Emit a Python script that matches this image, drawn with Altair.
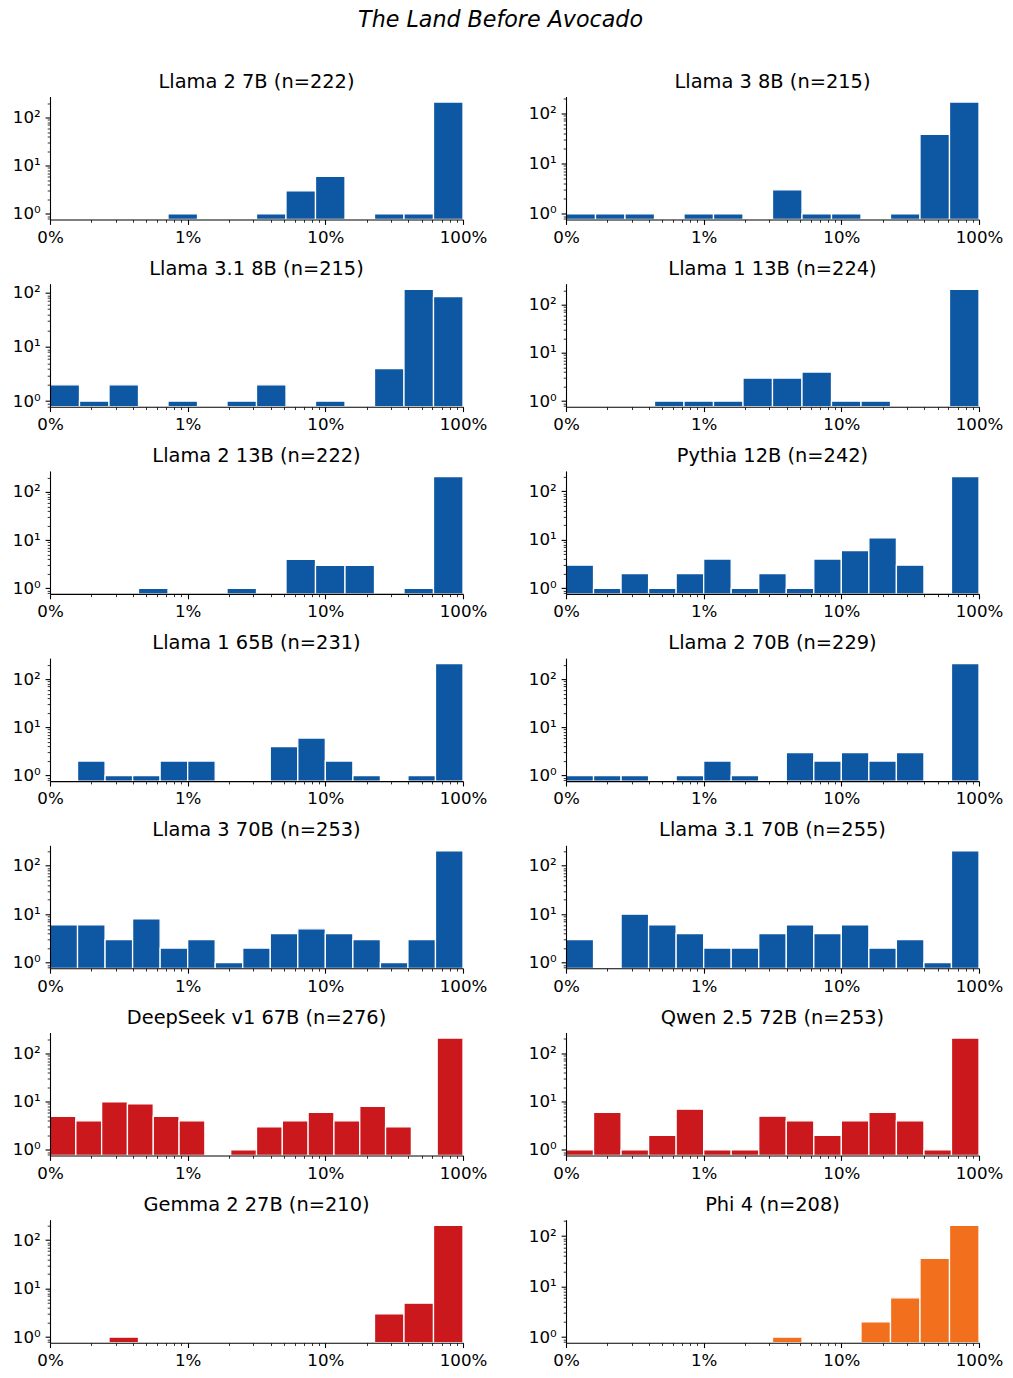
import math
import altair as alt
import pandas as pd

TITLE = "The Land Before Avocado"

MODELS = ["Llama 2 7B", "Llama 3 8B", "Llama 3.1 8B", "Llama 1 13B",
          "Llama 2 13B", "Pythia 12B", "Llama 1 65B", "Llama 2 70B",
          "Llama 3 70B", "Llama 3.1 70B", "DeepSeek v1 67B", "Qwen 2.5 72B",
          "Gemma 2 27B", "Phi 4"]
N = [222, 215, 215, 224, 222, 242, 231, 229, 253, 255, 276, 253, 210, 208]

BLUE = "#0e57a2"
RED = "#cb181d"
ORANGE = "#f16f1d"
COLORS = [BLUE] * 10 + [RED] * 3 + [ORANGE]

# histogram counts per model; bins span 0.1%..100% evenly in log space
COUNTS = [
    [0, 0, 0, 0, 1, 0, 0, 1, 3, 6, 0, 1, 1, 209],
    [1, 1, 1, 0, 1, 1, 0, 3, 1, 1, 0, 1, 38, 166],
    [2, 1, 2, 0, 1, 0, 1, 2, 0, 1, 0, 4, 116, 85],
    [0, 0, 0, 1, 1, 1, 3, 3, 4, 1, 1, 0, 0, 209],
    [0, 0, 0, 1, 0, 0, 1, 0, 4, 3, 3, 0, 1, 209],
    [3, 1, 2, 1, 2, 4, 1, 2, 1, 4, 6, 11, 3, 0, 201],
    [0, 2, 1, 1, 2, 2, 0, 0, 4, 6, 2, 1, 0, 1, 209],
    [1, 1, 1, 0, 1, 2, 1, 0, 3, 2, 3, 2, 3, 0, 209],
    [6, 6, 3, 8, 2, 3, 1, 2, 4, 5, 4, 3, 1, 3, 202],
    [3, 0, 10, 6, 4, 2, 2, 4, 6, 4, 6, 2, 3, 1, 202],
    [5, 4, 10, 9, 5, 4, 0, 1, 3, 4, 6, 4, 8, 3, 0, 210],
    [1, 6, 1, 2, 7, 1, 1, 5, 4, 2, 4, 6, 4, 1, 208],
    [0, 0, 1, 0, 0, 0, 0, 0, 0, 0, 0, 3, 5, 201],
    [0, 0, 0, 0, 0, 0, 0, 1, 0, 0, 2, 6, 36, 163],
]

X_MAJOR = [-1, 0, 1, 2]
X_LABELS = ["0%", "1%", "10%", "100%"]

FONT = "DejaVu Sans"
W, H = 413, 123
MAJ_T, MIN_T = 4.9, 2.8
LBL = 16.67


def x_axis():
    vals = list(X_MAJOR)
    for k in (-1, 0, 1):
        for m in range(2, 10):
            vals.append(k + math.log10(m))
    maj_test = " || ".join(f"datum.value == {v}" for v in X_MAJOR)
    lab = "''"
    for v, t in reversed(list(zip(X_MAJOR, X_LABELS))):
        lab = f"datum.value == {v} ? '{t}' : ({lab})"
    return alt.Axis(values=vals, labelExpr=lab, title=None, grid=False,
                    domainColor="black", domainWidth=1.1,
                    tickColor="black",
                    tickSize={"condition": {"test": maj_test, "value": MAJ_T}, "value": MIN_T},
                    tickWidth={"condition": {"test": maj_test, "value": 1.1}, "value": 0.8},
                    labelFont=FONT, labelColor="black",
                    labelFontSize={"condition": {"test": maj_test, "value": LBL}, "value": 0},
                    labelPadding=4.9, labelFlush=False, labelOverlap=False,
                    zindex=1)


def y_axis(lo, hi):
    vals = []
    for e in range(-1, 4):
        for m in range(1, 10):
            v = round(m * 10 ** e, 6)
            if lo <= v <= hi:
                vals.append(v)
    maj_test = "datum.value == 1 || datum.value == 10 || datum.value == 100 || datum.value == 1000"
    lab = ("datum.value == 1 ? '10⁰' : (datum.value == 10 ? '10¹' : "
           "(datum.value == 100 ? '10²' : (datum.value == 1000 ? '10³' : '')))")
    return alt.Axis(values=vals, labelExpr=lab, title=None, grid=False,
                    domainColor="black", domainWidth=1.1,
                    tickColor="black",
                    tickSize={"condition": {"test": maj_test, "value": MAJ_T}, "value": MIN_T},
                    tickWidth={"condition": {"test": maj_test, "value": 1.1}, "value": 0.8},
                    labelFont=FONT, labelColor="black",
                    labelFontSize={"condition": {"test": maj_test, "value": LBL}, "value": 0},
                    labelPadding=4.9, labelOverlap=False, zindex=1)


def panel(i):
    counts = COUNTS[i]
    nb = len(counts)
    L = math.log10(max(counts))
    lo, hi = 10 ** (-0.05 * L), 10 ** (1.05 * L)
    rows = [dict(x0=-1 + 3 * k / nb, x1=-1 + 3 * (k + 1) / nb, c=v, base=lo)
            for k, v in enumerate(counts) if v > 0]
    df = pd.DataFrame(rows)
    return alt.Chart(df).mark_bar(color=COLORS[i], stroke="white", strokeWidth=1.3).encode(
        x=alt.X("x0:Q", scale=alt.Scale(domain=[-1, 2], nice=False, zero=False), axis=x_axis()),
        x2="x1:Q",
        y=alt.Y("c:Q", scale=alt.Scale(type="log", domain=[lo, hi], nice=False), axis=y_axis(lo, hi)),
        y2="base:Q",
    ).properties(
        width=W, height=H,
        title=alt.TitleParams(f"{MODELS[i]} (n={N[i]})", font=FONT, fontSize=19.4,
                              fontWeight="normal", color="black", anchor="middle",
                              frame="group", offset=4.5),
    )


rows = [alt.hconcat(panel(2 * r), panel(2 * r + 1), spacing=41) for r in range(7)]
chart = alt.vconcat(*rows, spacing=12.2).properties(
    title=alt.TitleParams(TITLE, font=FONT, fontSize=22.2, fontStyle="italic",
                          fontWeight="normal", color="black", anchor="middle",
                          offset=40, dx=-7),
    padding={"left": 12, "top": 8.5, "right": 5, "bottom": 5},
    background="white",
).configure_view(stroke=None)

chart.save("out.html", embed_options={"renderer": "svg", "actions": False})
